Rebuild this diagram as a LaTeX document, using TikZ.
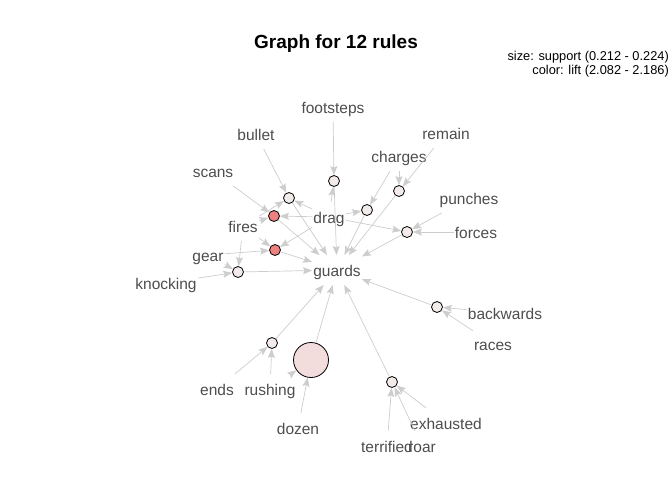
\documentclass[tikz,border=0pt]{standalone}
\usepackage{fontspec}
\setmainfont{Liberation Sans}
\usepackage{tikz}
\usetikzlibrary{arrows.meta}
\usepackage{xcolor}
\definecolor{labelgray}{HTML}{4D4D4D}
\definecolor{edgegray}{HTML}{CDCDCD}
\definecolor{rulelight}{HTML}{F3EAEA}
\definecolor{rulered}{HTML}{EE8080}
\definecolor{rulebig}{HTML}{F2DCDC}

\begin{document}
\begin{tikzpicture}[
    x=1pt, y=-1pt,
    item/.style={text=labelgray, font=\fontsize{15.5}{18}\selectfont, inner xsep=1pt, inner ysep=7pt, text height=14.5pt, text depth=1pt},
    rule/.style={circle, draw=black, line width=0.8pt, minimum size=11pt, inner sep=0pt, fill=rulelight},
    hot/.style={rule, fill=rulered},
    arrow/.style={-{Stealth[length=9pt, width=7pt, inset=1.5pt]}, draw=edgegray, line width=0.7pt},
    legend/.style={anchor=east, inner sep=0pt, font=\fontsize{12.8}{14}\selectfont}
]
    \useasboundingbox (0,0) rectangle (672,480);

    % Title and legend
    \node[font=\fontsize{19}{22}\selectfont\bfseries] (title) at (336,44) {Graph for 12 rules};
    \node[legend] (size) at (669,57) {size: support (0.212 - 0.224)};
    \node[legend] (color) at (669,71) {color: lift (2.082 - 2.186)};

    % Items
    \node[item] (footsteps) at (333,107) {footsteps};
    \node[item] (bullet) at (256,134) {bullet};
    \node[item] (remain) at (446,133) {remain};
    \node[item] (charges) at (399,156) {charges};
    \node[item] (scans) at (213,171) {scans};
    \node[item] (punches) at (469,198) {punches};
    \node[item] (drag) at (329,217) {drag};
    \node[item] (fires) at (243,226) {fires};
    \node[item] (forces) at (476,232) {forces};
    \node[item] (gear) at (208,255) {gear};
    \node[item] (guards) at (337,270) {guards};
    \node[item] (knocking) at (166,283) {knocking};
    \node[item] (backwards) at (505,313) {backwards};
    \node[item] (races) at (493,344) {races};
    \node[item] (ends) at (217,389) {ends};
    \node[item] (rushing) at (270,389) {rushing};
    \node[item] (dozen) at (298,428) {dozen};
    \node[item] (exhausted) at (446,423) {exhausted};
    \node[item] (terrified) at (387,446) {terrified};
    \node[item] (roar) at (422,446) {roar};

    % Rules
    \node[rule] (r1) at (289,198) {};
    \node[hot] (r2) at (274,216) {};
    \node[rule] (r3) at (334,181) {};
    \node[rule] (r4) at (367,210) {};
    \node[rule] (r5) at (399,191) {};
    \node[rule] (r6) at (407,232) {};
    \node[hot] (r7) at (275,250) {};
    \node[rule] (r8) at (238,272) {};
    \node[rule] (r9) at (272,343) {};
    \node[rule, fill=rulebig, minimum size=35pt] (r10) at (311,360) {};
    \node[rule] (r11) at (437,307) {};
    \node[rule] (r12) at (392,382) {};

    % Arrows into rules
    \draw[arrow] (bullet) -- (r1);
    \draw[arrow] (fires) -- (r1);
    \draw[arrow] (drag) -- (r1);
    \draw[arrow] (scans) -- (r2);
    \draw[arrow] (fires) -- (r2);
    \draw[arrow] (drag) -- (r2);
    \draw[arrow] (footsteps) -- (r3);
    \draw[arrow] (drag) -- (r3);
    \draw[arrow] (charges) -- (r4);
    \draw[arrow] (drag) -- (r4);
    \draw[arrow] (charges) -- (r5);
    \draw[arrow] (remain) -- (r5);
    \draw[arrow] (punches) -- (r6);
    \draw[arrow] (forces) -- (r6);
    \draw[arrow] (drag) -- (r6);
    \draw[arrow] (fires) -- (r7);
    \draw[arrow] (gear) -- (r7);
    \draw[arrow] (drag) -- (r7);
    \draw[arrow] (fires) -- (r8);
    \draw[arrow] (gear) -- (r8);
    \draw[arrow] (knocking) -- (r8);
    \draw[arrow] (ends) -- (r9);
    \draw[arrow] (rushing) -- (r9);
    \draw[arrow] (rushing) -- (r10);
    \draw[arrow] (dozen) -- (r10);
    \draw[arrow] (backwards) -- (r11);
    \draw[arrow] (races) -- (r11);
    \draw[arrow] (terrified) -- (r12);
    \draw[arrow] (exhausted) -- (r12);
    \draw[arrow] (roar) -- (r12);

    % Arrows into guards
    \draw[arrow] (r1) -- (guards);
    \draw[arrow] (r2) -- (guards);
    \draw[arrow] (r3) -- (guards);
    \draw[arrow] (r4) -- (guards);
    \draw[arrow] (r5) -- (guards);
    \draw[arrow] (r6) -- (guards);
    \draw[arrow] (r7) -- (guards);
    \draw[arrow] (r8) -- (guards);
    \draw[arrow] (r9) -- (guards);
    \draw[arrow] (r10) -- (guards);
    \draw[arrow] (r11) -- (guards);
    \draw[arrow] (r12) -- (guards);
\end{tikzpicture}
\end{document}
